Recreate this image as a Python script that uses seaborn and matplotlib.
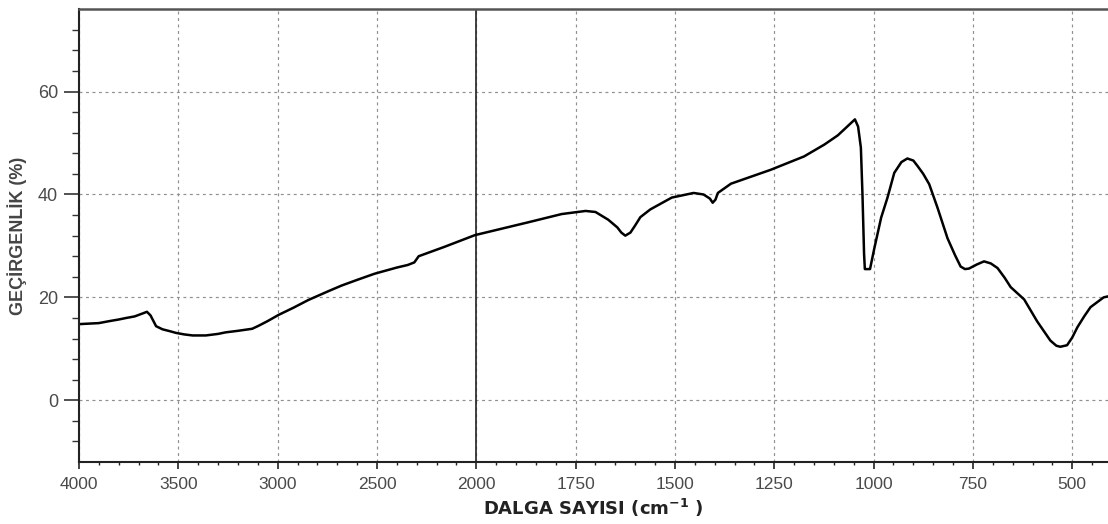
import numpy as np
import pandas as pd
import matplotlib
matplotlib.use("Agg")
import matplotlib.pyplot as plt
from matplotlib.ticker import FixedLocator, NullFormatter
import seaborn as sns

# ---- data ----
wavenumber = [4000, 3950, 3900, 3845, 3800, 3762, 3720, 3678, 3658, 3640,
              3612, 3580, 3540, 3512, 3470, 3428, 3362, 3300, 3262, 3200,
              3128, 3095, 3050, 2995, 2920, 2845,
              2745, 2678, 2600, 2512, 2400, 2345, 2312, 2290, 2162, 2007, 1869,
              1785, 1725, 1700, 1668, 1645, 1635, 1625, 1612, 1600, 1587, 1562, 1508,
              1453, 1428, 1412, 1405, 1398, 1392, 1359, 1259, 1175, 1124,
              1090, 1047, 1039, 1032, 1028, 1024, 1022, 1009, 998, 981,
              965, 948, 930, 915, 900, 889, 875, 860, 839, 814, 795, 781,
              770, 760, 740, 722, 705, 688, 670, 655, 621, 588, 555, 540, 530,
              513, 500, 487, 470, 454, 421, 410]
transmittance = [14.8, 14.9, 15.0, 15.4, 15.7, 16.0, 16.3, 16.9, 17.2, 16.5,
                 14.4, 13.8, 13.4, 13.1, 12.8, 12.6, 12.6, 12.9, 13.2, 13.5,
                 13.9, 14.5, 15.4, 16.6, 18.0, 19.5,
                 21.2, 22.3, 23.4, 24.6, 25.8, 26.3, 26.8, 28.0, 29.8, 32.1, 34.6,
                 36.2, 36.8, 36.6, 35.1, 33.6, 32.6, 32.0, 32.6, 34.0, 35.6, 37.1, 39.4,
                 40.3, 40.0, 39.2, 38.4, 39.0, 40.3, 42.1, 44.8, 47.4, 49.7,
                 51.5, 54.6, 53.2, 49.1, 40.0, 28.5, 25.5, 25.5, 29.6, 35.5,
                 39.4, 44.2, 46.3, 47.0, 46.6, 45.5, 44.0, 42.0, 37.4, 31.5, 28.2, 26.0,
                 25.5, 25.6, 26.4, 27.0, 26.6, 25.7, 23.8, 22.0, 19.6, 15.3, 11.6, 10.6, 10.4,
                 10.7, 12.2, 14.2, 16.3, 18.1, 20.0, 20.2]

x_major = [4000, 3500, 3000, 2500, 2000, 1750, 1500, 1250, 1000, 750, 500]
y_major = [0, 20, 40, 60]
BREAK_WN = 2000

df = pd.DataFrame({"wn": wavenumber, "T": transmittance})

sns.set_theme(style="white")
plt.rcParams["font.family"] = ["Liberation Sans", "DejaVu Sans"]
plt.rcParams["mathtext.fontset"] = "dejavusans"

fig = plt.figure(figsize=(11.08, 5.24), dpi=100)
ax = fig.add_axes([79 / 1108, 1 - 462 / 524, 1 - 79 / 1108, (462 - 9.3) / 524])

sns.lineplot(data=df, x="wn", y="T", ax=ax, color="black", linewidth=1.8,
             sort=False, estimator=None)


def fwd(x):
    x = np.asarray(x, dtype=float)
    return np.where(x > BREAK_WN, BREAK_WN + (x - BREAK_WN) / 2.0, x)


def inv(y):
    y = np.asarray(y, dtype=float)
    return np.where(y > BREAK_WN, BREAK_WN + (y - BREAK_WN) * 2.0, y)


ax.set_xscale("function", functions=(fwd, inv))
ax.set_xlim(4000, 410)
ax.set_ylim(-12, 76)

x_minor = [v for v in list(range(4000, 2000, -100)) + list(range(2000, 400, -50))
           if v not in x_major]
ax.xaxis.set_major_locator(FixedLocator(x_major))
ax.xaxis.set_minor_locator(FixedLocator(x_minor))
ax.xaxis.set_minor_formatter(NullFormatter())
ax.set_xticklabels([str(v) for v in x_major])

ax.yaxis.set_major_locator(FixedLocator(y_major))
ax.yaxis.set_minor_locator(FixedLocator([v for v in range(-8, 76, 4) if v not in y_major]))

ax.grid(True, which="major", color="#909090", linestyle=(0, (2.5, 3)), linewidth=0.85)
ax.axvline(BREAK_WN, color="#222222", linewidth=1.2, zorder=1.5)

ax.tick_params(axis="x", which="major", direction="out", length=5, width=1.2,
               color="#222222", labelsize=12.5, labelcolor="#4a4a4a", pad=6,
               bottom=True)
ax.tick_params(axis="x", which="minor", direction="out", length=2.5, width=1.0,
               color="#222222", bottom=True)
ax.tick_params(axis="y", which="major", direction="out", length=11, width=1.2,
               color="#333333", labelsize=13, labelcolor="#4a4a4a", pad=4, left=True)
ax.tick_params(axis="y", which="minor", direction="out", length=5, width=1.0,
               color="#333333", left=True)

for side in ["left", "bottom"]:
    ax.spines[side].set_color("#222222")
    ax.spines[side].set_linewidth(1.5)
ax.spines["top"].set_color("#555555")
ax.spines["top"].set_linewidth(1.8)
ax.spines["right"].set_visible(False)

ax.set_xlabel(r"DALGA SAYISI (cm$^{\mathbf{-1}}$ )", fontsize=13, fontweight="bold",
              color="#222222", family=["DejaVu Sans"], labelpad=3)
ax.set_ylabel("GEÇİRGENLİK (%)", fontsize=13, fontweight="bold", color="#444444",
              labelpad=8)

fig.savefig("out.png", dpi=100)
